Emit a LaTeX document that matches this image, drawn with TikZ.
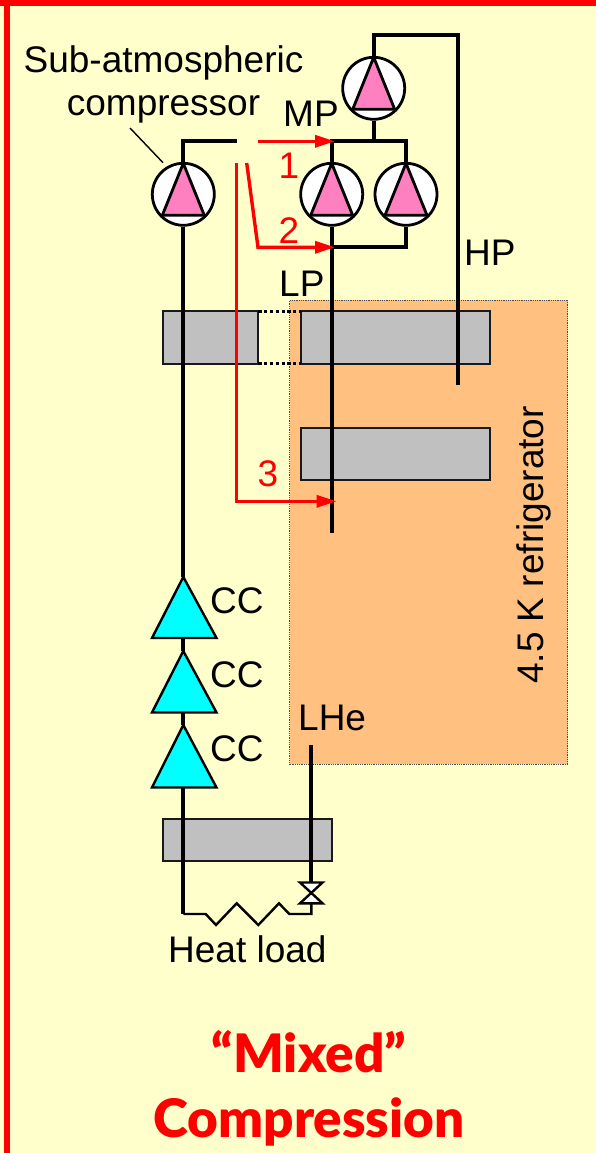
\documentclass[tikz,border=0pt]{standalone}
\usepackage{fontspec}
\setmainfont{Liberation Sans}
\newfontfamily\titlefont{Lato Black}
\usetikzlibrary{arrows.meta,calc}
\definecolor{bgy}{HTML}{FFFFCC}
\definecolor{orng}{HTML}{FFC080}
\definecolor{gry}{HTML}{C0C0C0}
\definecolor{pnk}{HTML}{FF80C0}
\definecolor{cyn}{HTML}{00FFFF}
\newcommand{\lblsize}{\fontsize{37}{41}\selectfont}
\tikzset{
  pipe/.style={line width=3.8pt,black,line join=miter},
  redline/.style={line width=3.4pt,red,line join=miter},
  redarrow/.style={redline,-{Triangle[length=20pt,width=12pt]}},
  hx/.style={draw=black!90,line width=1.8pt,fill=gry,inner sep=0pt,outer sep=0pt,anchor=north west},
  pumpbody/.style={circle,draw=black,line width=2.8pt,fill=white,minimum size=62pt,inner sep=0pt,outer sep=1.4pt},
  pumptri/.style={draw=black,line width=2.8pt,fill=pnk,line join=miter},
  cc/.style={draw=black,line width=2.4pt,fill=cyn,line join=miter},
  lbl/.style={font=\lblsize,inner sep=0pt,anchor=base west,text=black},
  rlbl/.style={font=\lblsize,inner sep=0pt,anchor=base,text=red},
  ttl/.style={font=\titlefont\fontsize{53}{57}\selectfont,inner sep=0pt,anchor=base,text=red},
  link/.style={line width=3.2pt,black,dash pattern=on 3.2pt off 2.6pt}
}
\newcommand{\pumpat}[3]{%
  \node[pumpbody] (#1) at (#2,#3) {};
  \draw[pumptri] ($(#1.center)+(0,-31)$) -- ($(#1.center)+(21,21)$) -- ($(#1.center)+(-21,21)$) -- cycle;
}
\begin{document}
\begin{tikzpicture}[x=1pt,y=-1pt]
\useasboundingbox (0,0) rectangle (596,1153);
\fill[bgy] (0,0) rectangle (596,1153);
\fill[red] (0,0) rectangle (596,6);
\fill[red] (4,0) rectangle (9.5,1153);
% refrigerator box
\node[draw=black!70,densely dotted,line width=0.8pt,fill=orng,minimum width=278pt,minimum height=464pt,inner sep=0pt,outer sep=0pt,anchor=north west] (fridge) at (289.7,300.3) {};
% heat exchangers
\node[hx,minimum width=95pt,minimum height=52.4pt] (hxa) at (163.3,311.3) {};
\node[hx,minimum width=189.3pt,minimum height=52.4pt] (hxb) at (300.7,311.3) {};
\node[hx,minimum width=189.3pt,minimum height=52.4pt] (hxc) at (300.7,427.7) {};
\node[hx,minimum width=168.4pt,minimum height=42pt] (hxd) at (163.3,819) {};
\draw[link] (hxa.north east) -- (hxb.north west);
\draw[link] (hxa.south east) -- (hxb.south west);
% coordinates
\coordinate (hpa) at (373.7,35.3);
\coordinate (hpb) at (458.3,35.3);
\coordinate (hpc) at (458.3,385);
\coordinate (mpj) at (373.7,141.3);
\coordinate (mpl) at (331.7,141.3);
\coordinate (mpr) at (406,141.3);
\coordinate (lpj) at (331.7,247.3);
\coordinate (lpr) at (406,247.3);
\coordinate (lpe) at (331.7,532.7);
\coordinate (sal) at (183.3,141.3);
\coordinate (sae) at (236.7,141.3);
\coordinate (lhe) at (311.3,745);
\coordinate (bl) at (183.3,914);
\coordinate (br) at (311.3,914);
% pumps
\pumpat{pt}{373.7}{88.3}
\pumpat{pa}{183.3}{194.3}
\pumpat{pb}{331.7}{194.3}
\pumpat{pc}{406}{194.3}
% pipes
\draw[pipe] (pt.north) -- (hpa) -- (hpb) -- (hpc);
\draw[pipe] (pt.south) -- (mpj);
\draw[pipe] (pb.north) -- (mpl) -- (mpr) -- (pc.north);
\draw[pipe] (pa.north) -- (sal) -- (sae);
\draw[pipe] (pb.south) -- (lpe);
\draw[pipe] (pc.south) -- (lpr) -- (lpj);
% cold compressors
\coordinate (cca) at (183.3,577);
\coordinate (ccb) at (183.3,651);
\coordinate (ccc) at (183.3,725);
\draw[pipe] (pa.south) -- (cca);
\draw[pipe] (183.3,787) -- (bl);
\draw[pipe] (183.3,638) -- (ccb);
\draw[pipe] (183.3,712) -- (ccc);
\draw[cc] (cca) -- (216.5,638) -- (152,638) -- cycle;
\draw[cc] (ccb) -- (216.5,712.5) -- (152,712.5) -- cycle;
\draw[cc] (ccc) -- (216.5,787.5) -- (152,787.5) -- cycle;
% heat load and valve
\coordinate (vt) at (311.3,882.5);
\coordinate (vb) at (311.3,903.3);
\draw[pipe] (lhe) -- (vt);
\draw[line width=2.4pt,black,line join=miter] (bl) -- (205.7,914) -- (216,925) -- (236.7,903.3) -- (258.3,925) -- (279,903.3) -- (289.3,914) -- (br) -- (vb);
\draw[line width=2.4pt,black,fill=white,line join=miter] (300,882.5) -- (322.5,882.5) -- (300,903.3) -- (322.5,903.3) -- cycle;
% red flows
\coordinate (ra) at (258,141.3);
\coordinate (rat) at (335,141.3);
\coordinate (rb) at (246.7,163);
\coordinate (rbm) at (258,247.3);
\coordinate (rbt) at (335,247.3);
\coordinate (rc) at (236.7,163);
\coordinate (rcm) at (236.7,501.3);
\coordinate (rct) at (336.5,501.3);
\draw[redarrow] (ra) -- (rat);
\draw[redarrow] (rb) -- (rbm) -- (rbt);
\draw[redarrow] (rc) -- (rcm) -- (rct);
% labels
\coordinate (lead) at (130,128);
\draw[line width=1.4pt,black] (lead) -- (163,162.7);
\node[font=\lblsize,inner sep=0pt,anchor=base] (t1) at (163.5,73) {Sub-atmospheric};
\node[font=\lblsize,inner sep=0pt,anchor=base] (t2) at (163.5,116) {compressor};
\node[lbl] (mp) at (283,127) {MP};
\node[lbl] (lp) at (279,296) {LP};
\node[lbl] (hp) at (464,265) {HP};
\node[rlbl] (n1) at (289,178) {1};
\node[rlbl] (n2) at (289,243) {2};
\node[rlbl] (n3) at (268,486) {3};
\node[lbl] (c1) at (210,613) {CC};
\node[lbl] (c2) at (210,687) {CC};
\node[lbl] (c3) at (210,761) {CC};
\node[lbl] (lh) at (298,730) {LHe};
\node[lbl] (hl) at (168,962) {Heat load};
\node[lbl,rotate=90] (fr) at (543,684) {4.5 K refrigerator};
\node[ttl] (tm) at (309,1072) {“Mixed”};
\node[ttl] (tc) at (309,1137) {Compression};
\end{tikzpicture}
\end{document}
